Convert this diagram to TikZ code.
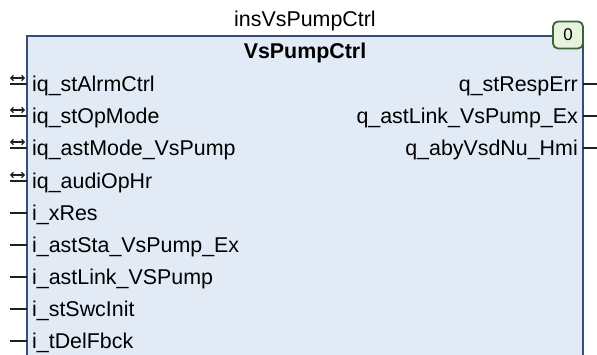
\documentclass[tikz,border=0pt]{standalone}
\usepackage{fontspec}
\setmainfont{Liberation Sans}
\usetikzlibrary{arrows.meta}
\definecolor{fbfill}{HTML}{E1EAF5}
\definecolor{fbedge}{HTML}{34507A}
\definecolor{idfill}{HTML}{E6F3DE}
\definecolor{idedge}{HTML}{3A6636}
\definecolor{pinc}{HTML}{202020}
\tikzset{
  pinlabel/.style={font=\fontsize{21.4}{25}\selectfont, text=black, inner sep=0pt},
  inlabel/.style={pinlabel, anchor=base west},
  outlabel/.style={pinlabel, anchor=base east},
  stub/.style={draw=pinc, line width=1.5pt},
  iostub/.style={draw=pinc, line width=1.2pt, {Straight Barb[length=2.6pt,width=5.5pt]}-{Straight Barb[length=2.6pt,width=5.5pt]}},
}
\begin{document}
\begin{tikzpicture}[x=1pt,y=-1pt]
  \useasboundingbox (0,0) rectangle (597,355);
  % function block body (runs past the lower edge)
  \path[fill=fbfill, draw=fbedge, line width=1.6pt] (27,380) -- (27,36) -- (583,36) -- (583,380);
  % instance and type names
  \node[pinlabel, anchor=base] (inst) at (305,27) {insVsPumpCtrl};
  \node[pinlabel, anchor=base, font=\fontsize{21.4}{25}\selectfont\bfseries] (type) at (305,59) {VsPumpCtrl};
  % execution order badge
  \node[draw=idedge, fill=idfill, line width=1.8pt, rounded corners=5pt,
        minimum width=30pt, minimum height=27pt, inner sep=0pt,
        font=\fontsize{17}{20}\selectfont] (order) at (568,35) {0};
  % in/out pins
  \foreach \n/\y/\t in {a/84/iq\_stAlrmCtrl, b/116/iq\_stOpMode, c/148/iq\_astMode\_VsPump, d/181/iq\_audiOpHr}{
    \coordinate (p\n) at (27,\y);
    \coordinate (s\n) at (10,\y);
    \coordinate (u\n) at (10,\y-6);
    \coordinate (v\n) at (25,\y-6);
    \draw[stub] (s\n) -- (p\n);
    \draw[iostub] (u\n) -- (v\n);
    \node[inlabel] (l\n) at (32,\y+7.5) {\t};
  }
  % input pins
  \foreach \n/\y/\t in {e/213/i\_xRes, f/245/i\_astSta\_VsPump\_Ex, g/277/i\_astLink\_VSPump, h/309/i\_stSwcInit, k/341/i\_tDelFbck}{
    \coordinate (p\n) at (27,\y);
    \coordinate (s\n) at (10,\y);
    \draw[stub] (s\n) -- (p\n);
    \node[inlabel] (l\n) at (32,\y+7.5) {\t};
  }
  % output pins
  \foreach \n/\y/\t in {r/84/q\_stRespErr, s/116/q\_astLink\_VsPump\_Ex, t/148/q\_abyVsdNu\_Hmi}{
    \coordinate (p\n) at (583,\y);
    \coordinate (s\n) at (597,\y);
    \draw[stub] (p\n) -- (s\n);
    \node[outlabel] (l\n) at (578,\y+7.5) {\t};
  }
\end{tikzpicture}
\end{document}
